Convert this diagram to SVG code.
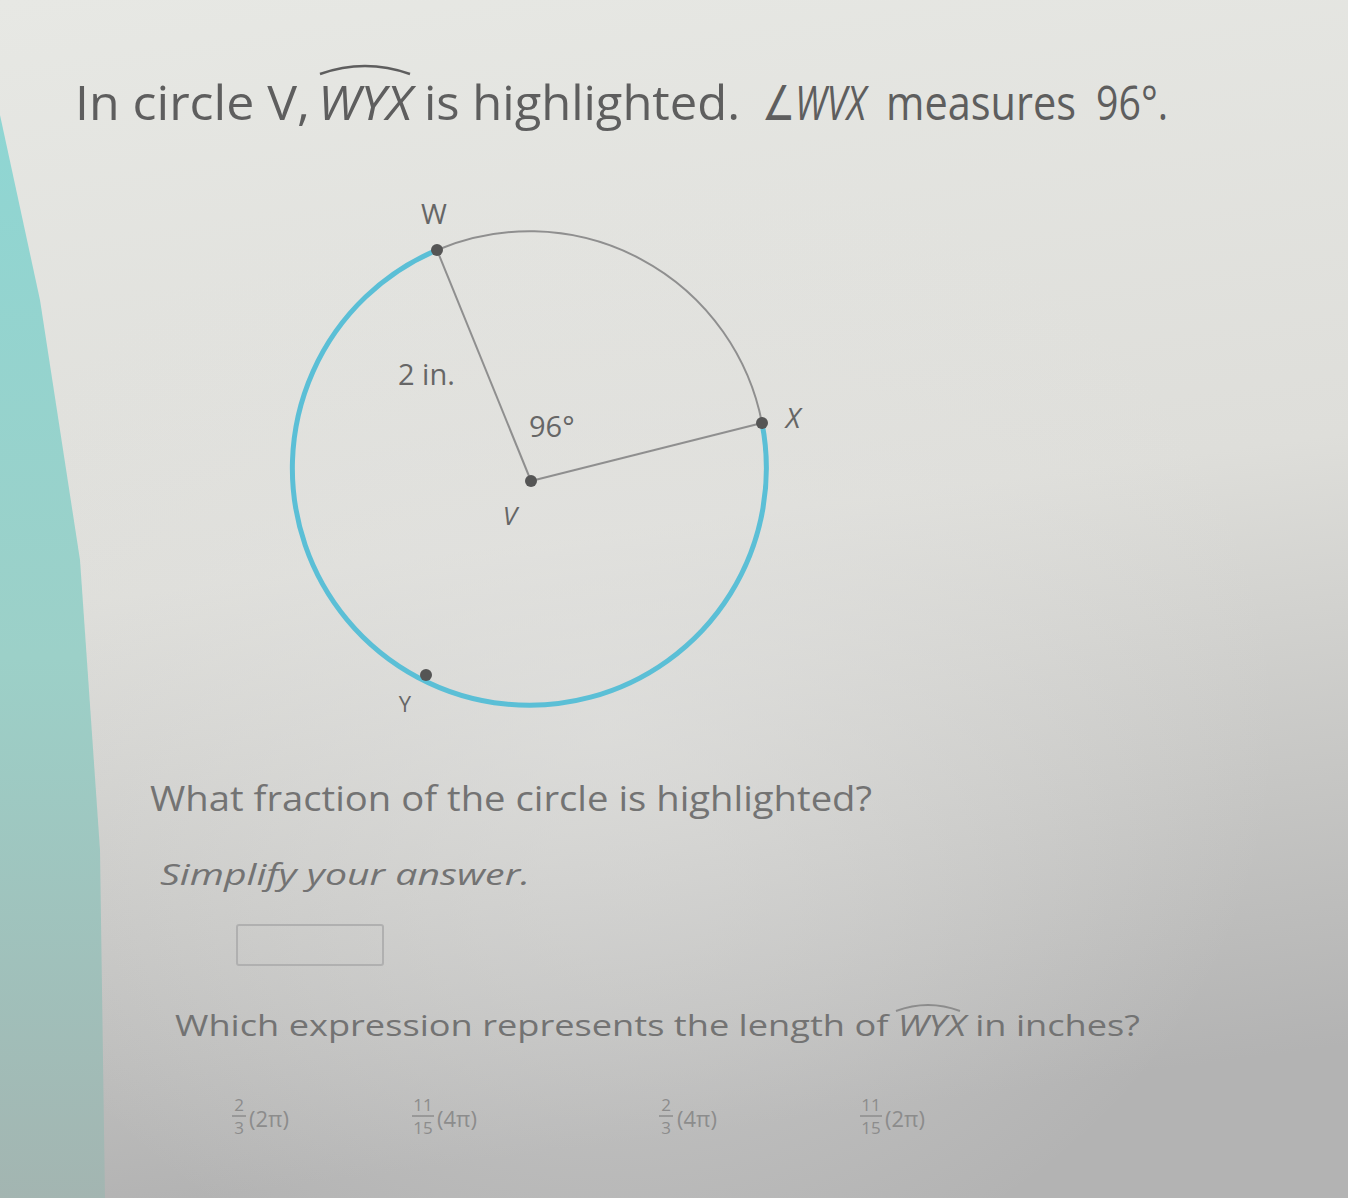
<svg xmlns="http://www.w3.org/2000/svg" width="1348" height="1198" viewBox="0 0 1348 1198">
<defs>
<linearGradient id="bg" x1="0" y1="0" x2="0.15" y2="1">
<stop offset="0" stop-color="#e7e8e4"/>
<stop offset="0.5" stop-color="#dededa"/>
<stop offset="0.78" stop-color="#c6c6c4"/>
<stop offset="1" stop-color="#b3b3b3"/>
</linearGradient>
<linearGradient id="teal" x1="0" y1="0" x2="0" y2="1">
<stop offset="0" stop-color="#8fd6d3"/>
<stop offset="0.5" stop-color="#9cd0c8"/>
<stop offset="1" stop-color="#a3b5b1"/>
</linearGradient>
<radialGradient id="glow" cx="0.45" cy="0.6" r="0.5">
<stop offset="0" stop-color="#e4e4e2" stop-opacity="0.6"/>
<stop offset="1" stop-color="#e4e4e2" stop-opacity="0"/>
</radialGradient>
<style>
.t{font-family:"Open Sans","DejaVu Sans",sans-serif;fill:#5e5e5e}
.q{font-family:"Open Sans","DejaVu Sans",sans-serif;fill:#737373}
.lbl{font-family:"Open Sans","DejaVu Sans",sans-serif;fill:#666}
.it{font-style:italic}
.dot{fill:#555}
.rad{stroke:#8f8f8f;stroke-width:2;fill:none}
.ch{font-family:"Open Sans","DejaVu Sans",sans-serif;fill:#8c8c8c}
</style>
</defs>
<rect width="1348" height="1198" fill="url(#bg)"/>
<rect width="1348" height="1198" fill="url(#glow)"/>
<polygon points="0,115 40,300 80,560 100,850 105,1198 0,1198" fill="url(#teal)"/>

<g id="title">
<text class="t" x="75" y="120" font-size="48" textLength="235" lengthAdjust="spacingAndGlyphs">In circle V,</text>
<text class="t it" x="318" y="120" font-size="48" textLength="94" lengthAdjust="spacingAndGlyphs">WYX</text>
<path d="M320 74 Q365 58 410 74" stroke="#5e5e5e" stroke-width="2.5" fill="none"/>
<text class="t" x="424" y="120" font-size="48" textLength="316" lengthAdjust="spacingAndGlyphs">is highlighted.</text>
<text class="t it" x="762" y="120" font-size="48" textLength="104" lengthAdjust="spacingAndGlyphs">∠WVX</text>
<text class="t" x="886" y="120" font-size="48" textLength="190" lengthAdjust="spacingAndGlyphs">measures</text>
<text class="t" x="1096" y="120" font-size="48" textLength="72" lengthAdjust="spacingAndGlyphs">96°.</text>
</g>

<g id="circle">
<path d="M437 250 A237 237 0 0 1 762 423" class="rad"/>
<path d="M437 250 A237 237 0 1 0 762 423" stroke="#5bbfd6" stroke-width="5" fill="none"/>
</g>

<g id="connectors">
<line x1="531" y1="481" x2="437" y2="250" class="rad"/>
<line x1="531" y1="481" x2="762" y2="423" class="rad"/>
</g>

<g id="node-W">
<circle class="dot" cx="437" cy="250" r="6"/>
<text class="lbl" x="434" y="224" font-size="28" text-anchor="middle">W</text>
</g>
<g id="node-X">
<circle class="dot" cx="762" cy="423" r="6"/>
<text class="lbl it" x="793" y="428" font-size="28" text-anchor="middle">X</text>
</g>
<g id="node-V">
<circle class="dot" cx="531" cy="481" r="6"/>
<text class="lbl it" x="510" y="525" font-size="26" text-anchor="middle">V</text>
</g>
<g id="node-Y">
<circle class="dot" cx="426" cy="675" r="6"/>
<text class="lbl" x="405" y="712" font-size="22" text-anchor="middle" fill="#888">Y</text>
</g>
<g id="labels">
<text class="lbl" x="398" y="385" font-size="29">2 in.</text>
<text class="lbl" x="529" y="437" font-size="29">96°</text>
</g>

<g id="question1">
<text class="q" x="150" y="811" font-size="35" textLength="722" lengthAdjust="spacingAndGlyphs">What fraction of the circle is highlighted?</text>
<text class="q it" x="160" y="885" font-size="30" textLength="370" lengthAdjust="spacingAndGlyphs" fill="#8a8a8a">Simplify your answer.</text>
<rect x="237" y="925" width="146" height="40" rx="2" fill="none" stroke="#b0b0b0" stroke-width="2"/>
</g>

<g id="question2">
<text class="q" x="175" y="1036" font-size="30" textLength="965" lengthAdjust="spacingAndGlyphs" fill="#8c8c8c">Which expression represents the length of <tspan font-style="italic">WYX</tspan> in inches?</text>
<path d="M896 1011 Q928 999 960 1011" stroke="#8c8c8c" stroke-width="2" fill="none"/>
</g>

<g id="choices">
<text class="ch" x="239" y="1111" font-size="17" text-anchor="middle">2</text>
<line x1="232" y1="1116" x2="246" y2="1116" stroke="#8c8c8c" stroke-width="1.5"/>
<text class="ch" x="239" y="1134" font-size="17" text-anchor="middle">3</text>
<text class="ch" x="249" y="1127" font-size="22">(2π)</text>

<text class="ch" x="423" y="1111" font-size="17" text-anchor="middle">11</text>
<line x1="412" y1="1116" x2="434" y2="1116" stroke="#8c8c8c" stroke-width="1.5"/>
<text class="ch" x="423" y="1134" font-size="17" text-anchor="middle">15</text>
<text class="ch" x="437" y="1127" font-size="22">(4π)</text>

<text class="ch" x="666" y="1111" font-size="17" text-anchor="middle">2</text>
<line x1="659" y1="1116" x2="673" y2="1116" stroke="#8c8c8c" stroke-width="1.5"/>
<text class="ch" x="666" y="1134" font-size="17" text-anchor="middle">3</text>
<text class="ch" x="677" y="1127" font-size="22">(4π)</text>

<text class="ch" x="871" y="1111" font-size="17" text-anchor="middle">11</text>
<line x1="860" y1="1116" x2="882" y2="1116" stroke="#8c8c8c" stroke-width="1.5"/>
<text class="ch" x="871" y="1134" font-size="17" text-anchor="middle">15</text>
<text class="ch" x="885" y="1127" font-size="22">(2π)</text>
</g>
</svg>
